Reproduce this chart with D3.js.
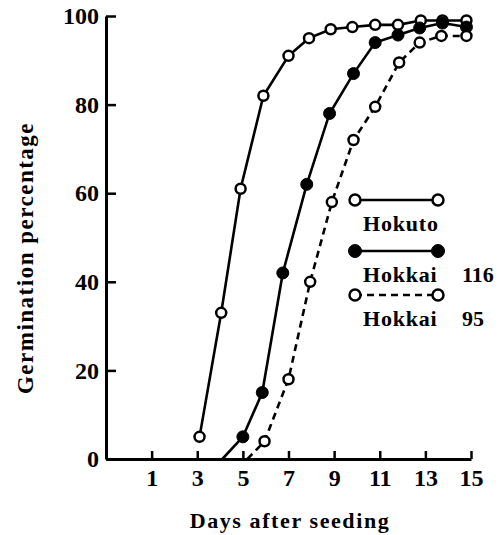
<!DOCTYPE html>
<html><head><meta charset="utf-8">
<script src="https://cdn.jsdelivr.net/npm/d3@7"></script>
<style>body{margin:0;background:#fff}svg{display:block}</style>
</head><body><svg id="c" width="504" height="535"></svg>
<script>
const xTicks=[1,3,5,7,9,11,13,15];
const yTicks=[0,20,40,60,80,100];
const hokutoDays=[3.1,4.05,4.9,5.9,7,7.9,8.85,9.8,10.8,11.8,12.8,13.75,14.8];
const hokutoPct=[5,33,61,82,91,95,97,97.5,98,98,99,99,99];
const hokkai116Days=[4.1,5,5.85,6.75,7.8,8.8,9.85,10.8,11.8,12.75,13.75,14.8];
const hokkai116Pct=[0,5,15,42,62,78,87,94,95.7,97.3,98.4,97.5];
const hokkai95Days=[5.2,5.95,7,7.95,8.9,9.85,10.8,11.85,12.75,13.7,14.8];
const hokkai95Pct=[0,4,18,40,58,72,79.5,89.5,94,95.5,95.5];
const legendNames=["Hokuto","Hokkai","Hokkai"];
const legendNums=["","116","95"];

const svg=d3.select("#c");
const x=d3.scaleLinear().domain([-1,15]).range([106,471]);
const y=d3.scaleLinear().domain([0,100]).range([459,16]);
const font="'Liberation Serif','DejaVu Serif',serif";

const series=[
 {days:hokutoDays,pct:hokutoPct,filled:false,dash:null,markFrom:0},
 {days:hokkai116Days,pct:hokkai116Pct,filled:true,dash:null,markFrom:1},
 {days:hokkai95Days,pct:hokkai95Pct,filled:false,dash:"7,5",markFrom:1}
];

// axes
const yAxis=d3.axisLeft(y).tickValues(yTicks).tickSizeInner(-10).tickSizeOuter(0).tickPadding(7);
const gy=svg.append("g").attr("transform","translate(106,0)").call(yAxis);
const xAxis=d3.axisBottom(x).tickValues(xTicks).tickSizeInner(-8).tickSizeOuter(0).tickPadding(10);
const gx=svg.append("g").attr("transform","translate(0,459)").call(xAxis);
[gx,gy].forEach(g=>{
  g.select(".domain").attr("stroke","#000").attr("stroke-width",3);
  g.selectAll(".tick line").attr("stroke","#000").attr("stroke-width",2.5);
  g.selectAll(".tick text").attr("fill","#000").attr("font-family",font).attr("font-size",24).attr("font-weight","bold");
});

const line=d3.line().x(d=>x(d[0])).y(d=>y(d[1]));
series.forEach(s=>{
  const pts=s.days.map((d,i)=>[d,s.pct[i]]);
  svg.append("path").datum(pts).attr("d",line).attr("fill","none").attr("stroke","#000")
    .attr("stroke-width",2.6).attr("stroke-dasharray",s.dash);
});
series.forEach(s=>{
  const pts=s.days.map((d,i)=>[d,s.pct[i]]).slice(s.markFrom);
  svg.append("g").selectAll("circle").data(pts).join("circle")
    .attr("cx",d=>x(d[0])).attr("cy",d=>y(d[1]))
    .attr("r",s.filled?6:5)
    .attr("fill",s.filled?"#000":"#fff").attr("stroke","#000").attr("stroke-width",s.filled?1:2.5);
});

// legend
const legY=[200,251,295];
series.forEach((s,i)=>{
  const g=svg.append("g");
  g.append("line").attr("x1",355).attr("x2",438).attr("y1",legY[i]).attr("y2",legY[i])
    .attr("stroke","#000").attr("stroke-width",2.6).attr("stroke-dasharray",s.dash);
  [355,438].forEach(cx=>g.append("circle").attr("cx",cx).attr("cy",legY[i]).attr("r",s.filled?6.5:5.5)
    .attr("fill",s.filled?"#000":"#fff").attr("stroke","#000").attr("stroke-width",s.filled?1:2.5));
  g.append("text").attr("x",363).attr("y",legY[i]+31).text(legendNames[i])
    .attr("font-family",font).attr("font-size",22).attr("font-weight","bold").attr("letter-spacing",0.8);
  if(legendNums[i]) g.append("text").attr("x",462).attr("y",legY[i]+31).text(legendNums[i])
    .attr("font-family",font).attr("font-size",22).attr("font-weight","bold");
});

// axis titles
svg.append("text").attr("x",290).attr("y",528).attr("text-anchor","middle")
  .attr("font-family",font).attr("font-size",22).attr("font-weight","bold").attr("letter-spacing",1.6)
  .text("Days after seeding");
svg.append("text").attr("transform","translate(33,258) rotate(-90)").attr("text-anchor","middle")
  .attr("font-family",font).attr("font-size",23).attr("font-weight","bold").attr("letter-spacing",1.5)
  .text("Germination percentage");
</script></body></html>
